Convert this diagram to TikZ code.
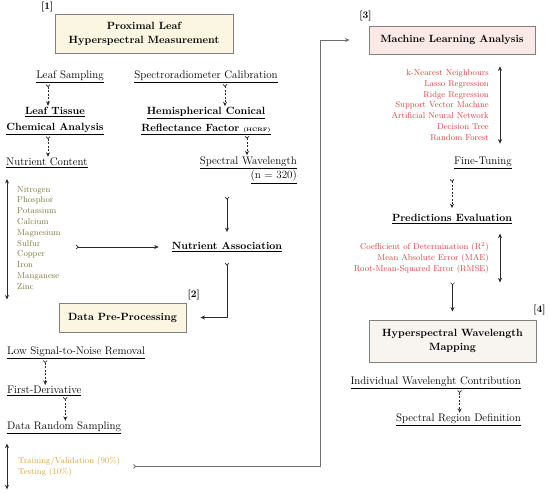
\documentclass[tikz,border=0pt]{standalone}
\usepackage{xcolor}
\usepackage{tikz}
\usetikzlibrary{
  arrows.meta,
  positioning,
  calc
}
\definecolor{pfCream}{HTML}{FAF6E1}
\definecolor{pfPink}{HTML}{FBE9E7}
\definecolor{pfSand}{HTML}{F8F4EF}
\definecolor{pfFrame}{HTML}{808080}
\definecolor{pfLine}{HTML}{2B2B2B}
\definecolor{pfRed}{HTML}{DD3F3F}
\definecolor{pfOlive}{HTML}{7A7A3C}
\definecolor{pfOrange}{HTML}{E2A03A}
\newcommand{\uln}[1]{\underline{#1}}
\tikzset{
  stage/.style={
    draw=pfFrame, line width=0.9pt, align=center, inner sep=0pt,
    font=\fontsize{10.5}{14}\selectfont\bfseries
  },
  tag/.style={font=\fontsize{10}{12}\selectfont\bfseries, inner sep=1pt},
  txt/.style={inner sep=1pt, align=center, font=\fontsize{11}{16}\selectfont},
  btxt/.style={txt, font=\fontsize{10.5}{16.5}\selectfont\bfseries},
  nlist/.style={inner sep=0pt, inner ysep=3pt, align=left, font=\fontsize{8.5}{10.8}\selectfont},
  flow/.style={line width=0.7pt, pfLine,
    {Straight Barb[reversed, length=2pt, width=4pt]}-{Stealth[length=4.5pt, width=4pt]}},
  dflow/.style={flow, dash pattern=on 2pt off 1.5pt},
  both/.style={line width=0.7pt, pfLine,
    {Stealth[length=4.5pt, width=4pt]}-{Stealth[length=4.5pt, width=4pt]}},
  link/.style={flow, draw=pfFrame!85!black, line width=0.8pt}
}
\begin{document}
\begin{tikzpicture}[x=1pt, y=-1pt]
  \useasboundingbox (0,0) rectangle (550,494);
  % [1] measurement
  \node[stage, fill=pfCream, minimum width=178pt, minimum height=39pt] (meas) at (144,33.5)
    {Proximal Leaf\\Hyperspectral Measurement};
  \node[tag, anchor=south east] at (meas.north west) {[1]};
  \node[txt] (samp) at (70,77) {\uln{Leaf Sampling}};
  \node[txt] (calib) at (206,77) {\uln{Spectroradiometer Calibration}};
  \node[btxt] (tissue) at (55,121) {\uln{Leaf Tissue}\\\uln{Chemical Analysis}};
  \node[btxt] (hcrf) at (206,121)
    {\uln{Hemispherical Conical}\\\uln{Reflectance Factor {\fontsize{5}{6}\selectfont(HCRF)}}};
  \node[txt, anchor=west] (content) at (5,163) {\uln{Nutrient Content}};
  \node[txt, anchor=east, align=right, font=\fontsize{11}{14.5}\selectfont] (wave) at (298,170)
    {\uln{Spectral Wavelength}\\\uln{(n = 320)}};
  \node[nlist, text=pfOlive, anchor=north west] (nutlist) at (17,183)
    {Nitrogen\\Phosphor\\Potassium\\Calcium\\Magnesium\\Sulfur\\Copper\\Iron\\Manganese\\Zinc};
  \node[btxt] (assoc) at (227,247) {\uln{Nutrient Association}};
  \draw[dflow] ([xshift=-22pt]samp.south) -- ([xshift=-22pt]samp.south |- tissue.north);
  \draw[dflow] ([xshift=19pt]calib.south) -- ([xshift=19pt]calib.south |- hcrf.north);
  \draw[dflow] ([xshift=-7pt]tissue.south) -- ([xshift=-7pt]tissue.south |- content.north);
  \draw[dflow] ([xshift=41pt]hcrf.south) -- ([xshift=41pt]hcrf.south |- wave.north);
  \draw[both] ([xshift=-10pt, yshift=4pt]nutlist.north west) -- ([xshift=-10pt, yshift=-7pt]nutlist.south west);
  \draw[flow] ([xshift=15pt]nutlist.east |- assoc.west) -- ([xshift=-12pt]assoc.west);
  \draw[flow] ([yshift=-12pt]wave.south -| assoc.north) -- ([yshift=9pt]assoc.north);

  % [2] pre-processing
  \node[stage, fill=pfCream, minimum width=127pt, minimum height=29pt] (prep) at (122.5,317.5)
    {Data Pre-Processing};
  \node[tag, anchor=south west] at ([yshift=1pt]prep.north east) {[2]};
  \draw[flow] ([yshift=-10pt]assoc.south) |- ([xshift=14pt]prep.east);
  \node[txt, anchor=west] (noise) at (6,353) {\uln{Low Signal-to-Noise Removal}};
  \node[txt, anchor=west] (deriv) at (6,391) {\uln{First-Derivative}};
  \node[txt, anchor=west] (random) at (6,428) {\uln{Data Random Sampling}};
  \node[nlist, text=pfOrange, anchor=west] (split) at (18,466.5)
    {Training/Validation (90\%)\\Testing (10\%)};
  \draw[dflow] ([xshift=-31pt]noise.south) -- ([xshift=-31pt]noise.south |- deriv.north);
  \draw[dflow] ([xshift=21pt]deriv.south) -- ([xshift=21pt]deriv.south |- random.north);
  \draw[both] ([xshift=-11pt, yshift=10pt]split.north west) -- ([xshift=-11pt, yshift=-10pt]split.south west);

  % [3] machine learning
  \node[stage, fill=pfPink, minimum width=166pt, minimum height=28pt] (ml) at (452,40)
    {Machine Learning Analysis};
  \node[tag, anchor=south] at ([xshift=-3pt, yshift=3pt]ml.north west) {[3]};
  \draw[link] ([xshift=13pt]split.east) -- ++(187pt,0) |- ([xshift=-19pt]ml.west);
  \node[nlist, text=pfRed, align=right, anchor=east] (mllist) at (489,105)
    {k-Nearest Neighbours\\Lasso Regression\\Ridge Regression\\Support Vector Machine\\Artificial Neural Network\\Decision Tree\\Random Forest};
  \draw[both] ([xshift=11pt]mllist.north east) -- ([xshift=11pt]mllist.south east);
  \node[txt] (tune) at (483,163) {\uln{Fine-Tuning}};
  \node[btxt] (pred) at (452,219) {\uln{Predictions Evaluation}};
  \draw[dflow] ([yshift=-9pt]tune.south -| pred.north) -- ([yshift=5pt]pred.north);
  \node[nlist, text=pfRed, align=right, anchor=east] (evlist) at (489,258)
    {Coefficient of Determination (R$^2$)\\Mean Absolute Error (MAE)\\Root-Mean-Squared Error (RMSE)};
  \draw[both] ([xshift=11pt, yshift=6pt]evlist.north east) -- ([xshift=11pt, yshift=-6pt]evlist.south east);

  % [4] mapping
  \node[stage, fill=pfSand, minimum width=167pt, minimum height=42pt] (map) at (452.5,341)
    {Hyperspectral Wavelength\\Mapping};
  \node[tag, anchor=south] at ([xshift=3pt, yshift=3pt]map.north east) {[4]};
  \draw[flow] ([yshift=-6pt]evlist.south -| map.north) -- ([yshift=8pt]map.north);
  \node[txt, anchor=east] (contrib) at (522,383) {\uln{Individual Wavelenght Contribution}};
  \node[txt, anchor=east] (region) at (522,420) {\uln{Spectral Region Definition}};
  \draw[dflow] ([xshift=24pt]contrib.south) -- ([xshift=24pt]contrib.south |- region.north);
\end{tikzpicture}
\end{document}
